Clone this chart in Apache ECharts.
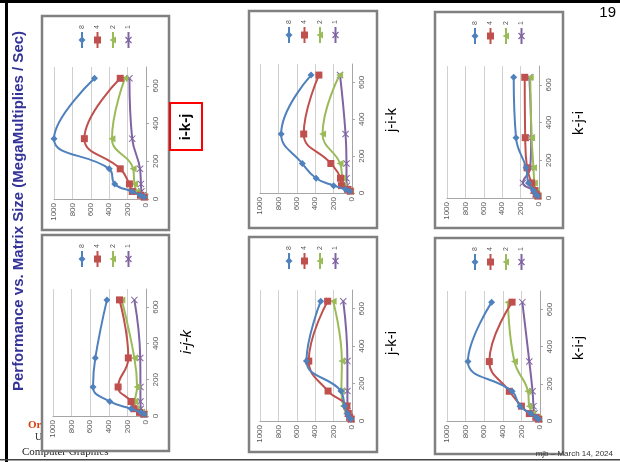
<!DOCTYPE html>
<html><head><meta charset="utf-8">
<script src="https://cdn.jsdelivr.net/npm/echarts@6/dist/echarts.min.js"></script>
<style>html,body{margin:0;padding:0;background:#fff}#c{width:620px;height:462px}</style>
</head><body><div id="c"></div>
<script>
// ---- data ----
const sizes = [10, 20, 40, 80, 160, 320, 640];          // matrix size
const threadLabels = ['8', '4', '2', '1'];               // thread counts (legend)
const orderNames = ['i-k-j', 'i-j-k', 'j-i-k', 'k-j-i', 'j-k-i', 'k-i-j'];
// MegaMultiplies / Sec for each loop order and thread count
const ikj_8 = [20, 60, 150, 340, 400, 1000, 560];
const ikj_4 = [20, 60, 150, 180, 280, 670, 280];
const ikj_2 = [15, 50, 100, 125, 140, 370, 230];
const ikj_1 = [10, 35, 50, 55, 65, 150, 180];

const ijk_8 = [20, 55, 160, 390, 570, 545, 420];
const ijk_4 = [25, 70, 130, 160, 300, 190, 285];
const ijk_2 = [20, 55, 105, 118, 96, 125, 260];
const ijk_1 = [15, 45, 55, 60, 60, 62, 125];

const jik_8 = [25, 70, 200, 390, 540, 770, 445];
const jik_4 = [20, 50, 115, 125, 230, 525, 360];
const jik_2 = [15, 45, 90, 105, 130, 320, 135];
const jik_1 = [15, 40, 55, 60, 60, 70, 130];

const kji_8 = [15, 35, 60, 115, 140, 250, 275];
const kji_4 = [12, 30, 50, 80, 130, 150, 155];
const kji_2 = [10, 25, 35, 50, 60, 80, 95];
const kji_1 = [12, 35, 60, 175, 95, 85, 105];

const jki_8 = [12, 30, 50, 80, 120, 495, 340];
const jki_4 = [10, 25, 40, 55, 260, 470, 265];
const jki_2 = [12, 30, 60, 95, 115, 110, 205];
const jki_1 = [10, 30, 45, 50, 50, 50, 95];

const kij_8 = [15, 40, 100, 215, 300, 775, 520];
const kij_4 = [15, 45, 115, 200, 330, 545, 300];
const kij_2 = [12, 35, 80, 115, 130, 275, 345];
const kij_1 = [12, 35, 60, 70, 80, 115, 190];

const chartValues = [
  [ikj_8, ikj_4, ikj_2, ikj_1],
  [ijk_8, ijk_4, ijk_2, ijk_1],
  [jik_8, jik_4, jik_2, jik_1],
  [kji_8, kji_4, kji_2, kji_1],
  [jki_8, jki_4, jki_2, jki_1],
  [kij_8, kij_4, kij_2, kij_1]
];

// ---- layout (pixels) ----
const layout = [
  {box: [42, 16, 169, 230], plot: [54, 67, 146, 199], title: [186, 127], tw: 'bold', ts: 'normal'},
  {box: [42, 235, 169, 451], plot: [53, 289, 146, 416], title: [187, 342], tw: 'normal', ts: 'italic'},
  {box: [249, 11, 377, 228], plot: [260, 64, 352, 193], title: [392, 120], tw: 'normal', ts: 'normal'},
  {box: [435, 12, 563, 228], plot: [447, 66, 539, 198], title: [579, 123], tw: 'normal', ts: 'normal'},
  {box: [249, 237, 377, 452], plot: [260, 290, 352, 421], title: [392, 343], tw: 'normal', ts: 'normal'},
  {box: [435, 238, 563, 454], plot: [447, 291, 540, 421], title: [579, 348], tw: 'normal', ts: 'normal'}
];
const colors = ['#4F81BD', '#C0504D', '#9BBB59', '#8064A2'];
const xPath = 'path://M1,0 L5,4 L9,0 L10,1 L6,5 L10,9 L9,10 L5,6 L1,10 L0,9 L4,5 L0,1 Z';
const symbols = ['diamond', 'rect', 'triangle', xPath];
const symSizes = [7, 7, 7, 7];
const legendDx = [40, 55.5, 71, 86.5];

const grids = [], xAxes = [], yAxes = [], series = [], elements = [];
const AF = 'Liberation Sans, Arial, sans-serif';

// background frame lines
elements.push({type: 'rect', z: 20, shape: {x: 0, y: 0, width: 620, height: 3}, style: {fill: '#000'}});
elements.push({type: 'rect', z: 20, shape: {x: 5, y: 0, width: 3, height: 462}, style: {fill: '#000'}});
elements.push({type: 'rect', z: 20, shape: {x: 0, y: 459, width: 620, height: 1.5}, style: {fill: '#444'}});

// logo text (partly hidden by chart box)
elements.push({type: 'text', z: -3, x: 28, y: 425, style: {text: 'Oregon State', font: 'bold 11px "Liberation Serif", serif', fill: '#D73F09', verticalAlign: 'middle'}});
elements.push({type: 'text', z: -3, x: 35, y: 437, style: {text: 'University', font: '10px "Liberation Serif", serif', fill: '#333', verticalAlign: 'middle'}});
elements.push({type: 'text', z: -3, x: 22, y: 452, style: {text: 'Computer Graphics', font: '11px "Liberation Serif", serif', fill: '#222', verticalAlign: 'middle'}});

// main title (rotated)
elements.push({type: 'text', z: 10, x: 19, y: 211, rotation: Math.PI / 2,
  style: {text: 'Performance vs. Matrix Size (MegaMultiplies / Sec)', font: 'bold 15px ' + AF, fill: '#333399', align: 'center', verticalAlign: 'middle'}});
// page number and footer
elements.push({type: 'text', z: 10, x: 616, y: 13, style: {text: '19', font: '15px ' + AF, fill: '#000', align: 'right', verticalAlign: 'middle'}});
elements.push({type: 'text', z: 10, x: 613, y: 454, style: {text: 'mjb – March 14, 2024', font: '8px ' + AF, fill: '#333', align: 'right', verticalAlign: 'middle'}});

layout.forEach((L, i) => {
  const [bx0, by0, bx1, by1] = L.box;
  const [px0, py0, px1, py1] = L.plot;
  elements.push({type: 'rect', z: -2, shape: {x: bx0, y: by0, width: bx1 - bx0, height: by1 - by0},
    style: {fill: '#fff', stroke: '#808080', lineWidth: 2.5}});
  grids.push({left: px0, top: py0, width: px1 - px0, height: py1 - py0});
  xAxes.push({gridIndex: i, type: 'value', min: 0, max: 1000, interval: 200, inverse: true, position: 'bottom',
    axisLine: {show: true, lineStyle: {color: '#a6a6a6', width: 1}},
    axisTick: {show: false},
    axisLabel: {rotate: 90, fontSize: 8, color: '#595959', margin: 4, fontFamily: AF, formatter: v => String(v)},
    splitLine: {show: true, lineStyle: {color: '#d0d0d0', width: 1}}});
  yAxes.push({gridIndex: i, type: 'value', min: 0, max: 700, interval: 200, position: 'right',
    axisLine: {show: true, lineStyle: {color: '#a6a6a6', width: 1}},
    axisTick: {show: true, length: 3, lineStyle: {color: '#a6a6a6'}},
    axisLabel: {rotate: 90, fontSize: 8, color: '#595959', margin: 6, showMaxLabel: false, fontFamily: AF, formatter: v => String(v)},
    splitLine: {show: false}});
  chartValues[i].forEach((vals, j) => {
    series.push({type: 'line', name: threadLabels[j], xAxisIndex: i, yAxisIndex: i,
      data: sizes.map((s, k) => [vals[k], s]),
      smooth: 0.45, symbol: symbols[j], symbolSize: symSizes[j], symbolRotate: j === 2 ? 90 : 0,
      showAllSymbol: true, clip: true, silent: true, z: 2 + (3 - j),
      lineStyle: {width: 2, color: colors[j]}, itemStyle: {color: colors[j]}});
    // legend entry (rotated)
    const lx = bx0 + legendDx[j], ly = by0 + 24;
    elements.push({type: 'line', z: 10, shape: {x1: lx, y1: ly - 8, x2: lx, y2: ly + 8}, style: {stroke: colors[j], lineWidth: 2}});
    if (j === 0) elements.push({type: 'polygon', z: 11, shape: {points: [[lx, ly - 3.5], [lx + 3.5, ly], [lx, ly + 3.5], [lx - 3.5, ly]]}, style: {fill: colors[j]}});
    if (j === 1) elements.push({type: 'rect', z: 11, shape: {x: lx - 3.5, y: ly - 3.5, width: 7, height: 7}, style: {fill: colors[j]}});
    if (j === 2) elements.push({type: 'polygon', z: 11, shape: {points: [[lx - 3.5, ly], [lx + 3, ly - 3.5], [lx + 3, ly + 3.5]]}, style: {fill: colors[j]}});
    if (j === 3) {
      elements.push({type: 'line', z: 11, shape: {x1: lx - 3, y1: ly - 3, x2: lx + 3, y2: ly + 3}, style: {stroke: colors[j], lineWidth: 1.2}});
      elements.push({type: 'line', z: 11, shape: {x1: lx + 3, y1: ly - 3, x2: lx - 3, y2: ly + 3}, style: {stroke: colors[j], lineWidth: 1.2}});
    }
    elements.push({type: 'text', z: 11, x: lx, y: ly - 13, rotation: Math.PI / 2,
      style: {text: threadLabels[j], font: '7px ' + AF, fill: '#595959', align: 'center', verticalAlign: 'middle'}});
  });
  elements.push({type: 'text', z: 10, x: L.title[0], y: L.title[1], rotation: Math.PI / 2,
    style: {text: orderNames[i], font: L.ts + ' ' + L.tw + ' 15px ' + AF, fill: '#000', align: 'center', verticalAlign: 'middle'}});
});
// red highlight around i-k-j
elements.push({type: 'rect', z: 12, shape: {x: 170, y: 103, width: 32, height: 47}, style: {fill: 'none', stroke: '#ff0000', lineWidth: 2}});

const chart = echarts.init(document.getElementById('c'), null, {renderer: 'canvas'});
chart.setOption({
  backgroundColor: '#fff',
  animation: false,
  grid: grids, xAxis: xAxes, yAxis: yAxes, series: series,
  graphic: {elements: elements}
});
</script></body></html>
